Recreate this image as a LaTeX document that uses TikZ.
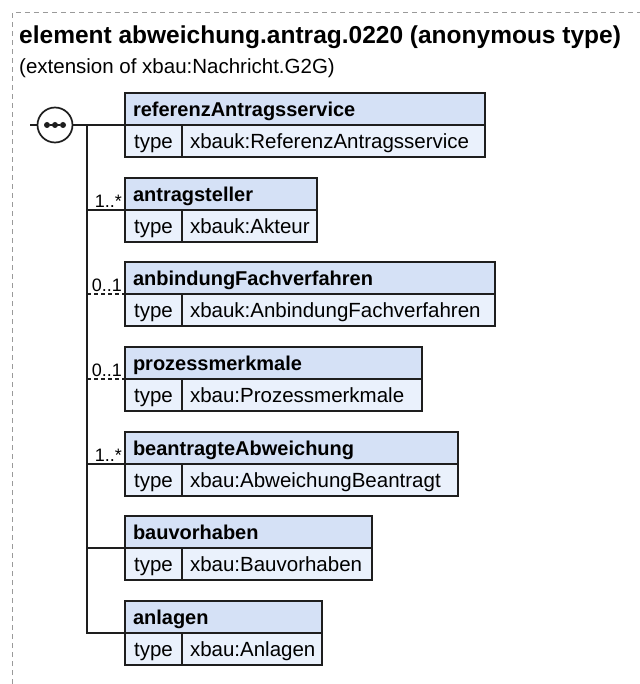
\documentclass[tikz,border=0pt]{standalone}
\usepackage{fontspec}
\setmainfont{Liberation Sans}
\definecolor{hdrfill}{HTML}{D5E1F6}
\definecolor{bodyfill}{HTML}{EAF1FC}
\definecolor{edge}{HTML}{1E1E1E}
\definecolor{frame}{HTML}{9A9A9A}
\tikzset{
  cellbase/.style={draw=edge, line width=1.7pt, rectangle, minimum height=32pt, outer sep=0pt,
    inner ysep=0pt, text height=15.5pt, text depth=0pt, anchor=north west},
  hdr/.style={cellbase, fill=hdrfill, inner xsep=8pt, align=left,
    font=\fontsize{20}{22}\selectfont\bfseries},
  typecell/.style={cellbase, fill=bodyfill, minimum width=57pt, inner xsep=0pt,
    font=\fontsize{20.5}{22}\selectfont},
  valcell/.style={cellbase, fill=bodyfill, inner xsep=8pt, align=left,
    font=\fontsize{20.5}{22}\selectfont},
  mult/.style={inner sep=0pt, anchor=south east, font=\fontsize{18}{20}\selectfont},
  conn/.style={draw=edge, line width=1.7pt},
  optconn/.style={draw=edge, line width=1.7pt, dash pattern=on 4pt off 3pt},
  dot/.style={circle, fill=edge, inner sep=0pt, minimum size=6pt},
}
\newcommand{\elembox}[5]{%
  \node[hdr, text width=#3-16] (#1) at (125,#2) {#4};
  \node[typecell] (#1t) at (#1.south west) {type};
  \node[valcell, text width=#3-73] (#1v) at (#1t.north east) {#5};
}
\begin{document}
\begin{tikzpicture}[x=1pt,y=-1pt]
\useasboundingbox (0,0) rectangle (639,684);
% outer dashed frame
\draw[frame, line width=1pt, dash pattern=on 5pt off 4pt] (12,684) -- (12,13) -- (640,13);
% titles
\node[anchor=base west, inner sep=0pt, font=\fontsize{24.5}{28}\selectfont\bfseries] (title) at (19,44) {element abweichung.antrag.0220 (anonymous type)};
\node[anchor=base west, inner sep=0pt, font=\fontsize{20.5}{24}\selectfont] (subtitle) at (19,74) {(extension of xbau:Nachricht.G2G)};
% boxes
\elembox{b1}{93}{360}{referenzAntragsservice}{xbauk:ReferenzAntragsservice}
\elembox{b2}{178}{192}{antragsteller}{xbauk:Akteur}
\elembox{b3}{262}{370}{anbindungFachverfahren}{xbauk:AnbindungFachverfahren}
\elembox{b4}{347}{297}{prozessmerkmale}{xbau:Prozessmerkmale}
\elembox{b5}{432}{333}{beantragteAbweichung}{xbau:AbweichungBeantragt}
\elembox{b6}{516}{247}{bauvorhaben}{xbau:Bauvorhaben}
\elembox{b7}{601}{197}{anlagen}{xbau:Anlagen}
% sequence compositor
\coordinate (in) at (30,125);
\node[circle, draw=edge, line width=1.7pt, fill=white, minimum size=35pt, inner sep=0pt, outer sep=0pt] (seq) at (55,125) {};
\node[dot] (d1) at (47,125) {};
\node[dot] (d2) at (55,125) {};
\node[dot] (d3) at (63,125) {};
\draw[conn, line width=2pt] (d1) -- (d3);
\draw[conn] (in) -- (seq.west);
\draw[conn] (seq.east) -- (b1.south west);
\coordinate (trunk) at (87,125);
\draw[conn] (trunk) |- (b7.south west);
\draw[conn] (b2.south west -| trunk) -- (b2.south west);
\draw[optconn] (b3.south west -| trunk) -- (b3.south west);
\draw[optconn] (b4.south west -| trunk) -- (b4.south west);
\draw[conn] (b5.south west -| trunk) -- (b5.south west);
\draw[conn] (b6.south west -| trunk) -- (b6.south west);
% multiplicities
\node[mult] (m2) at ([shift={(-3,-2)}]b2.south west) {1..*};
\node[mult] (m3) at ([shift={(-3,-2)}]b3.south west) {0..1};
\node[mult] (m4) at ([shift={(-3,-2)}]b4.south west) {0..1};
\node[mult] (m5) at ([shift={(-3,-2)}]b5.south west) {1..*};
\end{tikzpicture}
\end{document}
